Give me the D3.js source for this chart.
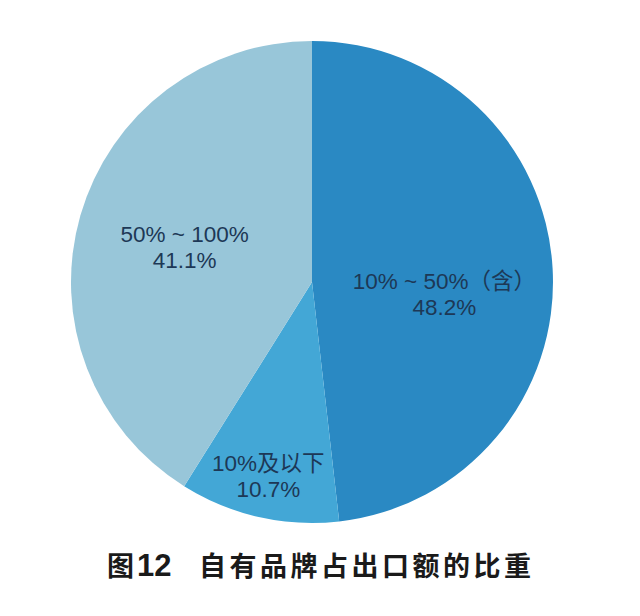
<!DOCTYPE html>
<html lang="zh-CN">
<head>
<meta charset="UTF-8">
<title>自有品牌占出口额的比重</title>
<script src="https://d3js.org/d3.v7.min.js"></script>
<style>
    body { margin: 0; background: #fff; }
    .slice-label {
        font-family: "Liberation Sans", "Noto Sans CJK SC", sans-serif;
        font-size: 22.5px;
        fill: #1d3856;
    }
    .title {
        font-family: "Noto Sans CJK SC", sans-serif;
        font-weight: 700;
        font-size: 27px;
        fill: #1a1a1a;
    }
    .title .num {
        font-family: "Liberation Sans", sans-serif;
        font-size: 31px;
    }
</style>
</head>
<body>
<div id="chart"></div>
<script>
    // 数据
    const categories = ["10% ~ 50%（含）", "10%及以下", "50% ~ 100%"];
    const shares = [48.2, 10.7, 41.1];
    const colors = ["#2a89c3", "#43a7d6", "#98c6d9"];

    const width = 640, height = 616;
    const cx = 312, cy = 282, radius = 241;

    const svg = d3.select("#chart").append("svg")
        .attr("width", width)
        .attr("height", height);

    const g = svg.append("g").attr("transform", `translate(${cx},${cy})`);

    const pie = d3.pie().sort(null).value(d => d.value);
    const arcs = pie(categories.map((c, i) => ({ name: c, value: shares[i], color: colors[i] })));

    const arc = d3.arc().innerRadius(0).outerRadius(radius);
    // 大扇区标签靠内，小扇区标签靠外
    const innerLabel = d3.arc().innerRadius(radius * 0.55).outerRadius(radius * 0.55);
    const outerLabel = d3.arc().innerRadius(radius * 0.82).outerRadius(radius * 0.82);

    g.selectAll("path.slice")
        .data(arcs)
        .enter()
        .append("path")
        .attr("class", "slice")
        .attr("d", arc)
        .attr("fill", d => d.data.color);

    const labels = g.selectAll("text.slice-label")
        .data(arcs)
        .enter()
        .append("text")
        .attr("class", "slice-label")
        .attr("text-anchor", "middle")
        .attr("transform", d => {
            const p = (d.data.value < 15 ? outerLabel : innerLabel).centroid(d);
            // 右侧标签在参考图中略低
            const shift = d.index === 0 ? 18 : 0;
            return `translate(${p[0]},${p[1] + shift})`;
        });

    labels.append("tspan")
        .attr("x", 0)
        .attr("dy", "-0.15em")
        .text(d => d.data.name);
    labels.append("tspan")
        .attr("x", 0)
        .attr("dy", "1.15em")
        .text(d => d3.format(".1f")(d.data.value) + "%");

    // 标题
    const title = svg.append("text")
        .attr("class", "title")
        .attr("x", 107)
        .attr("y", 576);
    title.append("tspan").text("图");
    title.append("tspan").attr("class", "num").attr("dx", 3).text("12");

    svg.append("text")
        .attr("class", "title")
        .attr("x", 199)
        .attr("y", 576)
        .attr("letter-spacing", "3.5px")
        .text("自有品牌占出口额的比重");
</script>
</body>
</html>
